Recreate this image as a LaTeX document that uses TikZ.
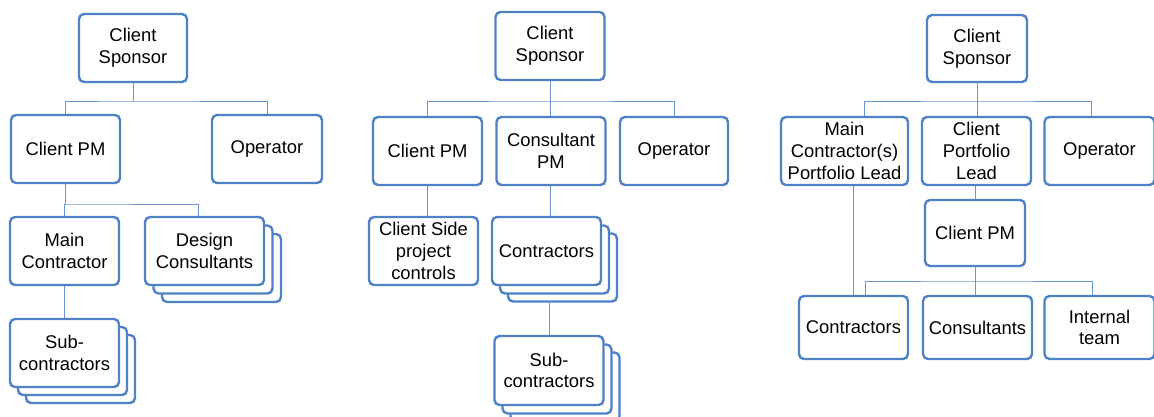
\documentclass[tikz,border=0pt]{standalone}
\usepackage{fontspec}
\setmainfont{Liberation Sans}
\usetikzlibrary{backgrounds}
\definecolor{boxline}{RGB}{79,129,198}
\definecolor{linkline}{RGB}{104,150,212}
\tikzset{
  orgbox/.style={draw=boxline, line width=2.4pt, rounded corners=5pt, fill=white,
    align=center, inner sep=0pt, text=black,
    font=\fontsize{18.4}{21.8}\selectfont,
    minimum width=109pt, minimum height=68pt},
  link/.style={draw=linkline, line width=1pt},
}
\begin{document}
\begin{tikzpicture}[x=1pt, y=-1pt]
\path[use as bounding box] (0,0) rectangle (1154,416);
\clip (0,0) rectangle (1154,416);

% ---------------- first chart ----------------
\node[orgbox, minimum width=108pt] (s1) at (133,48) {Client\\Sponsor};
\node[orgbox] (p1) at (65.5,149) {Client PM};
\node[orgbox, minimum width=110pt] (o1) at (267,149) {Operator};
\node[orgbox] (m1) at (64.5,251) {Main\\Contractor};
% stacked design consultants
\node[orgbox, minimum width=119pt] (d1c) at (221.5,268) {};
\node[orgbox, minimum width=119pt] (d1b) at (213,259.5) {};
\node[orgbox, minimum width=119pt] (d1) at (204.5,251) {Design\\Consultants};
% stacked sub-contractors
\node[orgbox] (u1c) at (80.5,369) {};
\node[orgbox] (u1b) at (72.5,361) {};
\node[orgbox] (u1) at (64.5,353) {Sub-\\contractors};

\coordinate (b1) at (133,101);
\coordinate (b1b) at (65.5,204);
\begin{scope}[on background layer]
  \draw[link] (s1.south) -- (b1);
  \draw[link] (p1.north) |- (b1) -| (o1.north);
  \draw[link] (p1.south) -- (b1b);
  \draw[link] (m1.north) |- (b1b) -| ([xshift=-6.5pt]d1.north);
  \draw[link] (m1.south) -- (u1.north);
\end{scope}

% ---------------- second chart ----------------
\node[orgbox] (s2) at (550,46) {Client\\Sponsor};
\node[orgbox] (p2) at (427.5,151) {Client PM};
\node[orgbox] (c2) at (551,151) {Consultant\\PM};
\node[orgbox, minimum width=108pt] (o2) at (674,151) {Operator};
\node[orgbox] (cs2) at (423.5,251) {Client Side\\project\\controls};
% stacked contractors
\node[orgbox] (k2c) at (562.5,267.5) {};
\node[orgbox] (k2b) at (554.5,259.5) {};
\node[orgbox] (k2) at (546.5,251) {Contractors};
% stacked sub-contractors
\node[orgbox, minimum height=69pt] (u2c) at (565,387) {};
\node[orgbox, minimum height=69pt] (u2b) at (557,379) {};
\node[orgbox, minimum height=69pt] (u2) at (549,370.5) {Sub-\\contractors};

\coordinate (b2) at (550,101);
\begin{scope}[on background layer]
  \draw[link] (s2.south) -- (b2);
  \draw[link] (p2.north) |- (b2) -| (o2.north);
  \draw[link] (b2) -- (b2 |- c2.north);
  \draw[link] (p2.south) -- (p2.south |- cs2.north);
  \draw[link] (c2.south -| s2.south) -- (s2.south |- k2.north);
  \draw[link] (u2.north |- k2c.south) -- (u2.north);
\end{scope}

% ---------------- third chart ----------------
\node[orgbox, minimum width=100pt, minimum height=67pt] (s3) at (977,48.5) {Client\\Sponsor};
\node[orgbox, minimum width=127pt] (mc3) at (844.5,151) {Main\\Contractor(s)\\Portfolio Lead};
\node[orgbox] (cp3) at (976.5,151) {Client\\Portfolio\\Lead};
\node[orgbox, minimum width=110pt] (o3) at (1099.5,151) {Operator};
\node[orgbox, minimum width=100pt, minimum height=66pt] (pm3) at (975,233) {Client PM};
\node[orgbox, minimum height=63pt] (c3) at (853.5,327.5) {Contractors};
\node[orgbox, minimum height=63pt] (n3) at (977.5,327.5) {Consultants};
\node[orgbox, minimum width=110pt, minimum height=63pt] (t3) at (1099.5,327.5) {Internal\\team};

\coordinate (b3) at (977,101);
\coordinate (b3b) at (975,281);
\begin{scope}[on background layer]
  \draw[link] (s3.south) -- (b3);
  \draw[link] ([xshift=19.5pt]mc3.north) |- (b3) -| ([xshift=-8.5pt]o3.north);
  \draw[link] (b3) -- (b3 |- cp3.north);
  \draw[link] (cp3.south -| pm3.north) -- (pm3.north);
  \draw[link] (pm3.south) -- (b3b);
  \draw[link] ([xshift=11.5pt]c3.north) |- (b3b) -| ([xshift=-7.5pt]t3.north);
  \draw[link] (b3b) -- (b3b |- n3.north);
  \draw[link] (mc3.south -| c3.north) -- (c3.north);
\end{scope}
\end{tikzpicture}
\end{document}
